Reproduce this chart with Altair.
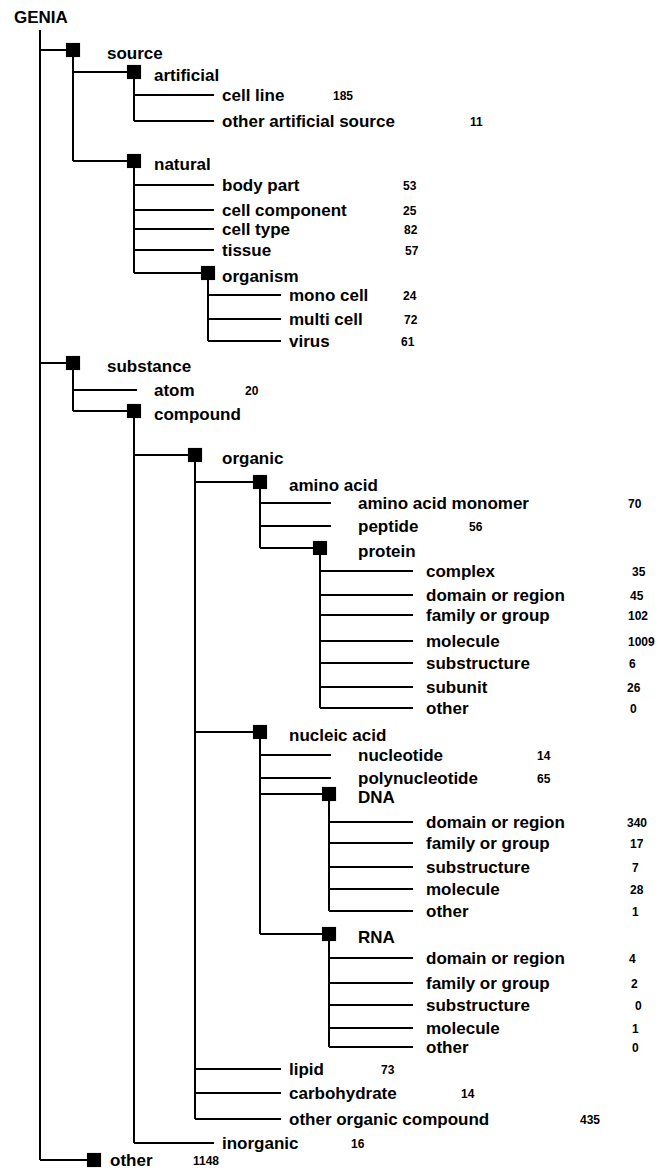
import altair as alt
import pandas as pd

# ---------------- DATA (tree, in display order) ----------------
root_name = "GENIA"
node_names = [
    "source", "artificial", "cell line", "other artificial source",
    "natural", "body part", "cell component", "cell type", "tissue",
    "organism", "mono cell", "multi cell", "virus",
    "substance", "atom", "compound", "organic", "amino acid",
    "amino acid monomer", "peptide", "protein",
    "complex", "domain or region", "family or group", "molecule",
    "substructure", "subunit", "other",
    "nucleic acid", "nucleotide", "polynucleotide", "DNA",
    "domain or region", "family or group", "substructure", "molecule", "other",
    "RNA",
    "domain or region", "family or group", "substructure", "molecule", "other",
    "lipid", "carbohydrate", "other organic compound",
    "inorganic", "other",
]
node_depths = [
    1, 2, 3, 3,
    2, 3, 3, 3, 3,
    3, 4, 4, 4,
    1, 2, 2, 3, 4,
    5, 5, 5,
    6, 6, 6, 6,
    6, 6, 6,
    4, 5, 5, 5,
    6, 6, 6, 6, 6,
    5,
    6, 6, 6, 6, 6,
    4, 4, 4,
    3, 1,
]
node_counts = [
    None, None, 185, 11,
    None, 53, 25, 82, 57,
    None, 24, 72, 61,
    None, 20, None, None, None,
    70, 56, None,
    35, 45, 102, 1009,
    6, 26, 0,
    None, 14, 65, None,
    340, 17, 7, 28, 1,
    None,
    4, 2, 0, 1, 0,
    73, 14, 435,
    16, 1148,
]

# ---------------- LAYOUT (row positions and columns) ----------------
row_y = [
    50, 72, 95, 121,
    161, 185, 210, 229, 250,
    273, 295, 319, 341,
    363, 390, 411, 455, 482,
    503, 526, 548,
    571, 595, 615, 641,
    663, 687, 708,
    732, 755, 778, 794,
    822, 843, 867, 889, 911,
    934,
    958, 983, 1005, 1028, 1047,
    1069, 1093, 1119,
    1143, 1160,
]
count_x = [
    333, 470, 403, 403, 404, 405, 403, 404, 401, 245,
    628, 469, 632, 630, 628, 628, 629, 627, 630,
    537, 537, 627, 630, 632, 630, 632,
    629, 631, 635, 632, 632,
    381, 461, 580, 351, 193,
]
root_x, root_top, root_label_x, root_label_y = 40, 30, 14, 18
box_x_by_depth = {1: 73, 2: 134, 3: 201, 4: 260, 5: 325}
box_x_override = {("organism", 3): 208, ("organic", 3): 195, ("other", 1): 94,
                  ("protein", 5): 320, ("DNA", 5): 329, ("RNA", 5): 329}
leaf_end_by_depth = {2: 137, 3: 214, 4: 281, 5: 331, 6: 413}
label_x_by_depth = {1: 107, 2: 154, 3: 222, 4: 289, 5: 358, 6: 426}
label_x_override = {("other", 1): 110}
internal_label_dy, leaf_label_dy, count_dy = 4, 1, 1

# ---------------- build tables ----------------
n = len(node_names)
is_internal = [i + 1 < n and node_depths[i + 1] > node_depths[i] for i in range(n)]
boxed = [is_internal[i] or node_depths[i] == 1 for i in range(n)]
box_x = [box_x_override.get((node_names[i], node_depths[i]), box_x_by_depth.get(node_depths[i]))
         for i in range(n)]

edges, boxes, labels, counts = [], [], [], []
stack = [(-1, 0)]  # (index, depth); -1 = root
last_child = {-1: None}
parent_of = []
for i in range(n):
    d = node_depths[i]
    while stack[-1][1] >= d:
        stack.pop()
    p = stack[-1][0]
    parent_of.append(p)
    last_child[p] = i
    if is_internal[i]:
        stack.append((i, d))
        last_child[i] = None

def px(idx):
    return root_x if idx == -1 else box_x[idx]

def py(idx):
    return root_top if idx == -1 else row_y[idx]

# vertical connectors
for p, lc in last_child.items():
    if lc is not None:
        edges.append({"x": px(p), "x2": px(p), "y": py(p), "y2": row_y[lc]})

ci = 0
for i in range(n):
    p = parent_of[i]
    end = box_x[i] if boxed[i] else leaf_end_by_depth[node_depths[i]]
    edges.append({"x": px(p), "x2": end, "y": row_y[i], "y2": row_y[i]})
    if boxed[i]:
        boxes.append({"x": box_x[i], "y": row_y[i]})
    lx = label_x_override.get((node_names[i], node_depths[i]), label_x_by_depth[node_depths[i]])
    dy = internal_label_dy if is_internal[i] else leaf_label_dy
    labels.append({"x": lx, "y": row_y[i] + dy, "text": node_names[i]})
    if node_counts[i] is not None:
        counts.append({"x": count_x[ci], "y": row_y[i] + count_dy, "text": str(node_counts[i])})
        ci += 1

labels.append({"x": root_label_x, "y": root_label_y, "text": root_name})

W, H = 650, 1161
xs = alt.Scale(domain=[8, 8 + W], nice=False, zero=False)
ys = alt.Scale(domain=[8, 8 + H], nice=False, zero=False, reverse=True)
X = alt.X("x:Q", scale=xs, axis=None)
Y = alt.Y("y:Q", scale=ys, axis=None)

rules = alt.Chart(pd.DataFrame(edges)).mark_rule(color="black", strokeWidth=2).encode(
    x=X, x2="x2:Q", y=Y, y2="y2:Q")
squares = alt.Chart(pd.DataFrame(boxes)).mark_square(
    color="black", filled=True, opacity=1, size=200).encode(x=X, y=Y)
label_marks = alt.Chart(pd.DataFrame(labels)).mark_text(
    align="left", baseline="middle", font="Liberation Sans", fontWeight="bold",
    fontSize=17, color="black").encode(x=X, y=Y, text="text:N")
count_marks = alt.Chart(pd.DataFrame(counts)).mark_text(
    align="left", baseline="middle", font="Liberation Sans", fontWeight="bold",
    fontSize=12, color="black").encode(x=X, y=Y, text="text:N")

chart = alt.layer(rules, squares, label_marks, count_marks).properties(
    width=W, height=H, padding=0, background="white",
    autosize=alt.AutoSizeParams(type="none")
).configure_view(strokeWidth=0, stroke="transparent")

chart.save("out.html", embed_options={"renderer": "svg", "actions": False})
